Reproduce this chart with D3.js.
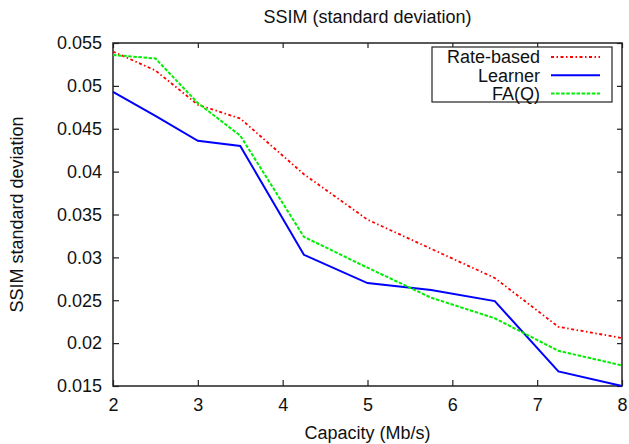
<!DOCTYPE html>
<html>
<head>
<meta charset="utf-8">
<script src="https://cdn.jsdelivr.net/npm/d3@7"></script>
<style>
  html, body { margin: 0; padding: 0; background: #fff; }
  svg { display: block; font-family: "Liberation Sans", Arial, sans-serif; }
</style>
</head>
<body>
<svg id="chart" width="629" height="444"></svg>
<script>
const capacity = [2, 2.5, 3, 3.5, 4.25, 5, 5.75, 6.5, 7.25, 8];
const rateBased = [0.0540, 0.0518, 0.0478, 0.0462, 0.0397, 0.0344, 0.0310, 0.0276, 0.0219, 0.0206];
const learner  = [0.0493, 0.0465, 0.0436, 0.0430, 0.0303, 0.0270, 0.0262, 0.0249, 0.0167, 0.0150];
const faq      = [0.0536, 0.0532, 0.0480, 0.0442, 0.0324, 0.0288, 0.0253, 0.0229, 0.0191, 0.0174];
const seriesNames = ["Rate-based", "Learner", "FA(Q)"];
const xTicks = [2, 3, 4, 5, 6, 7, 8];
const yTicks = [0.015, 0.02, 0.025, 0.03, 0.035, 0.04, 0.045, 0.05, 0.055];
const yTickLabels = ["0.015", "0.02", "0.025", "0.03", "0.035", "0.04", "0.045", "0.05", "0.055"];
const titleText = "SSIM (standard deviation)";
const xLabel = "Capacity (Mb/s)";
const yLabel = "SSIM standard deviation";

const svg = d3.select("#chart");
const L = 113, R = 622, T = 43, B = 386;
const x = d3.scaleLinear().domain([2, 8]).range([L, R]);
const y = d3.scaleLinear().domain([0.015, 0.055]).range([B, T]);
const fs = 18;
const axisColor = "#222";

// axes with inward ticks
const gB = svg.append("g").attr("transform", `translate(0,${B})`)
  .call(d3.axisBottom(x).tickValues(xTicks).tickSize(-6).tickPadding(12).tickFormat(d3.format("d")));
const gT = svg.append("g").attr("transform", `translate(0,${T})`)
  .call(d3.axisTop(x).tickValues(xTicks).tickSize(-5).tickFormat(""));
const gL = svg.append("g").attr("transform", `translate(${L},0)`)
  .call(d3.axisLeft(y).tickValues(yTicks).tickSize(-6).tickPadding(11).tickFormat((d, i) => yTickLabels[i]));
const gR = svg.append("g").attr("transform", `translate(${R},0)`)
  .call(d3.axisRight(y).tickValues(yTicks).tickSize(-5).tickFormat(""));
[gB, gT, gL, gR].forEach(g => {
  g.select(".domain").remove();
  g.selectAll(".tick line").attr("stroke", axisColor).attr("stroke-width", 1.2);
  g.selectAll(".tick text").attr("fill", "#111").style("font-size", fs + "px").style("font-family", '"Liberation Sans", Arial, sans-serif');
});

// frame
svg.append("rect").attr("x", L).attr("y", T).attr("width", R - L).attr("height", B - T)
  .attr("fill", "none").attr("stroke", axisColor).attr("stroke-width", 1.5);

// series
const series = [
  { name: seriesNames[0], values: rateBased, color: "#ff0000", dash: "3,2.5,1.5,2.5", width: 1.8 },
  { name: seriesNames[1], values: learner, color: "#0000ff", dash: null, width: 2 },
  { name: seriesNames[2], values: faq, color: "#00ee00", dash: "3.5,1.6", width: 2 }
];
const line = d3.line().x((d, i) => x(capacity[i])).y(d => y(d));
series.forEach(s => {
  svg.append("path").datum(s.values)
    .attr("d", line)
    .attr("fill", "none")
    .attr("stroke", s.color)
    .attr("stroke-width", s.width)
    .attr("stroke-dasharray", s.dash);
});

// legend
const lg = svg.append("g");
lg.append("rect").attr("x", 432).attr("y", 47).attr("width", 180).attr("height", 55)
  .attr("fill", "#fff").attr("stroke", axisColor).attr("stroke-width", 1.2);
series.forEach((s, i) => {
  const ly = 57 + i * 18.2;
  lg.append("text").attr("x", 540).attr("y", ly).attr("dy", "0.35em")
    .attr("text-anchor", "end").style("font-size", fs + "px").attr("fill", "#111").text(s.name);
  lg.append("line").attr("x1", 551).attr("x2", 600).attr("y1", ly).attr("y2", ly)
    .attr("stroke", s.color).attr("stroke-width", s.width).attr("stroke-dasharray", s.dash);
});

// titles
svg.append("text").attr("x", (L + R) / 2).attr("y", 23).attr("text-anchor", "middle")
  .style("font-size", "18px").attr("fill", "#111").text(titleText);
svg.append("text").attr("x", (L + R) / 2).attr("y", 439).attr("text-anchor", "middle")
  .style("font-size", fs + "px").attr("fill", "#111").text(xLabel);
svg.append("text").attr("transform", `translate(23,${(T + B) / 2}) rotate(-90)`)
  .attr("text-anchor", "middle").style("font-size", fs + "px").attr("fill", "#111").text(yLabel);
</script>
</body>
</html>
